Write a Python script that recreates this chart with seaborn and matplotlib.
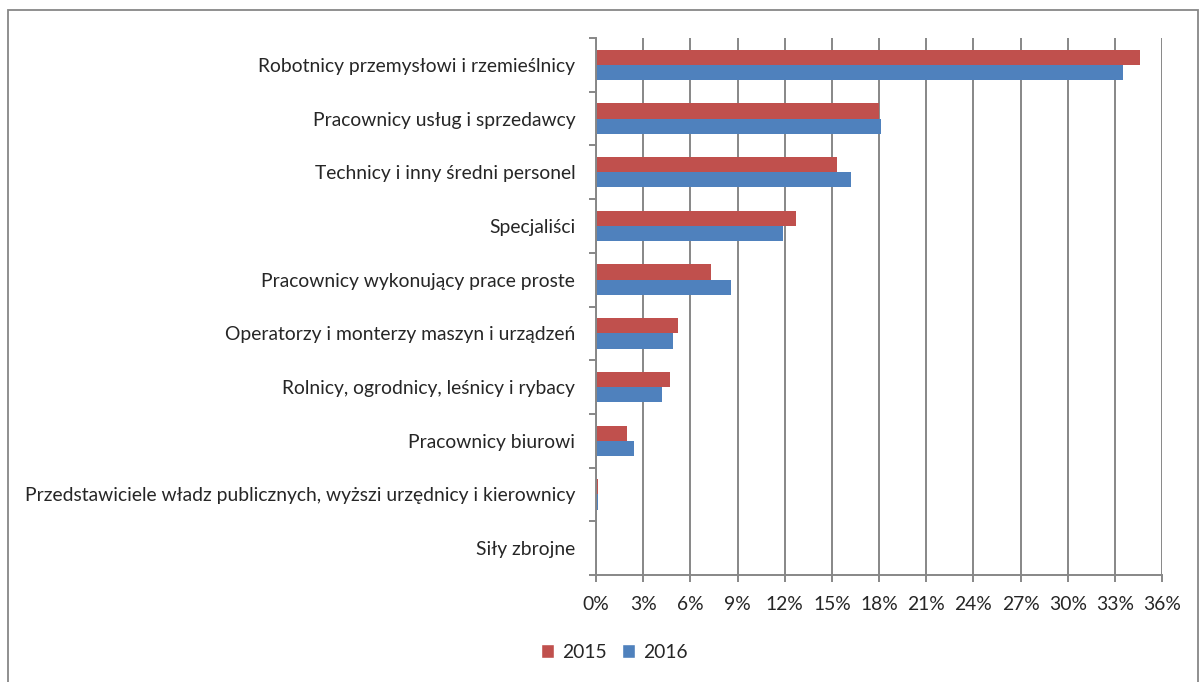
import pandas as pd
import seaborn as sns
import matplotlib.pyplot as plt
from matplotlib.patches import Rectangle, Patch
from matplotlib.ticker import MultipleLocator, FuncFormatter

# data (percent)
categories = [
    'Robotnicy przemysłowi i rzemieślnicy',
    'Pracownicy usług i sprzedawcy',
    'Technicy i inny średni personel',
    'Specjaliści',
    'Pracownicy wykonujący prace proste',
    'Operatorzy i monterzy maszyn i urządzeń',
    'Rolnicy, ogrodnicy, leśnicy i rybacy',
    'Pracownicy biurowi',
    'Przedstawiciele władz publicznych, wyższi urzędnicy i kierownicy',
    'Siły zbrojne',
]
values_2015 = [34.6, 18.0, 15.3, 12.7, 7.3, 5.2, 4.7, 2.0, 0.1, 0.0]
values_2016 = [33.5, 18.1, 16.2, 11.9, 8.6, 4.9, 4.2, 2.4, 0.15, 0.0]
years = ['2015', '2016']
colors = ['#C0504D', '#4F81BD']

df = pd.DataFrame({
    'Kategoria': categories * 2,
    'Rok': [years[0]] * len(categories) + [years[1]] * len(categories),
    'Udzial': values_2015 + values_2016,
})

sns.set_style('white')
plt.rcParams['font.family'] = ['Lato', 'DejaVu Sans']
fs = 13.85

fig = plt.figure(figsize=(12.03, 6.82), dpi=100)
ax = fig.add_axes([596 / 1203, 1 - 575 / 682, (1162 - 596) / 1203, (575 - 38) / 682])

sns.barplot(data=df, y='Kategoria', x='Udzial', hue='Rok', palette=colors,
            order=categories, width=0.565, orient='h', ax=ax, legend=False,
            edgecolor='none', saturation=1)

ax.set_xlim(0, 36)
ax.set_ylim(len(categories) - 0.5, -0.5)
ax.xaxis.set_major_locator(MultipleLocator(3))
ax.xaxis.set_major_formatter(FuncFormatter(lambda v, p: f'{v:.0f}%'))
ax.grid(axis='x', color='#878787', linewidth=1.4)
ax.set_axisbelow(True)
ax.set_xlabel('')
ax.set_ylabel('')

for side in ['top', 'right']:
    ax.spines[side].set_visible(False)
for side in ['left', 'bottom']:
    ax.spines[side].set_color('#878787')
    ax.spines[side].set_linewidth(1.4)

# tick marks between categories on the y axis, labels centered on bars
ax.set_yticks([i + 0.5 for i in range(-1, len(categories))], minor=True)
ax.tick_params(axis='y', which='minor', length=5, width=1.4, color='#878787', left=True)
ax.tick_params(axis='y', which='major', length=0, labelsize=fs, pad=15)
ax.tick_params(axis='x', length=5, width=1.4, color='#878787', bottom=True,
               labelsize=fs, pad=10)

handles = [Patch(facecolor=c, label=y) for c, y in zip(colors, years)]
fig.legend(handles=handles, loc='center', bbox_to_anchor=(614 / 1203, 1 - 652 / 682),
           ncol=2, frameon=False, fontsize=fs, handlelength=0.7, handleheight=0.7,
           handletextpad=0.4, columnspacing=0.8)

# outer frame of the chart
fig.patches.append(Rectangle((8 / 1203, -0.01), (1198 - 8) / 1203, 1 - 10 / 682 + 0.01,
                             transform=fig.transFigure, fill=False,
                             edgecolor='#878787', linewidth=1.3))

fig.savefig('out.png', dpi=100)
